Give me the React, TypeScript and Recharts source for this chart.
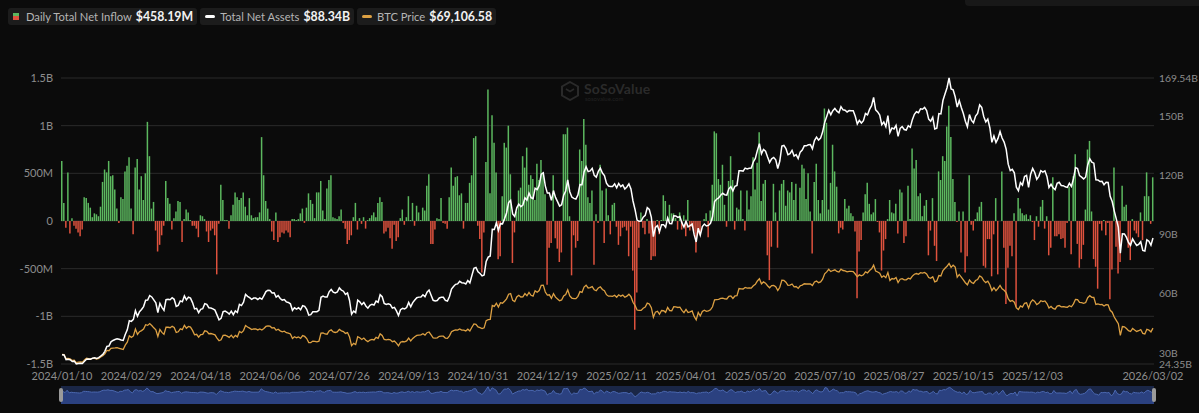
import React from 'react';
import { ComposedChart, Bar, Line, XAxis, YAxis, CartesianGrid, Cell, AreaChart, Area } from 'recharts';

// Daily Total Net Inflow, $M (one value per trading day)
const FLOW_M = [
  630,190,-70,510,-130,30,-50,-80,-120,-160,
  -90,250,240,190,140,40,80,70,50,150,
  410,540,510,630,470,480,330,130,-20,250,
  230,520,580,670,130,-140,560,650,330,470,
  220,500,1040,680,130,200,-100,-320,-250,-150,
  -50,420,240,180,-90,30,100,210,200,-220,
  20,120,90,10,-50,-50,-80,-170,60,50,
  20,-110,-220,-100,-80,-150,-560,-30,380,220,
  10,10,-80,60,170,300,250,220,240,300,
  150,60,240,60,30,40,40,90,880,480,
  210,130,20,-110,-200,90,-220,-170,-120,-130,
  -100,-120,-170,20,20,10,20,80,130,-20,
  140,290,220,180,30,300,300,420,110,20,
  340,430,480,40,30,20,50,120,-20,-80,
  -240,-200,-150,40,190,-90,30,-30,40,-80,
  10,30,60,90,40,190,250,200,-130,-110,
  -70,-180,-290,-40,-210,-170,30,120,-40,40,
  260,10,190,-50,160,90,10,140,110,370,
  490,-240,-240,-90,30,20,240,-20,-30,-80,
  250,560,370,460,470,270,290,-80,190,190,
  400,480,870,890,-50,-190,-540,-120,620,1380,
  290,1110,820,510,-400,-370,260,820,770,1000,
  490,-440,-120,100,320,350,680,560,770,380,
  480,440,220,600,430,640,490,280,-670,-280,
  -230,480,-180,-290,-430,-330,910,910,980,50,
  -570,-150,-280,-210,750,630,1070,800,250,190,
  320,-460,70,-20,590,320,-230,340,60,-140,
  170,190,-60,-250,-160,-70,-60,-100,-370,-60,
  -520,-1140,-750,-280,90,-70,-140,20,-130,-410,
  -370,-370,10,-140,10,270,210,10,170,80,
  80,30,-90,90,-90,60,-160,220,-100,-60,
  -110,-330,-130,-150,0,20,80,-170,110,380,
  940,920,440,380,590,170,-60,420,680,430,
  -90,140,120,320,20,-100,320,120,260,670,
  330,610,930,210,390,430,-360,-620,-270,390,
  90,-280,320,390,430,160,320,300,410,220,
  390,10,350,590,550,230,500,100,-340,410,
  600,220,80,220,1180,1030,120,400,800,520,
  360,-130,-70,-90,230,130,160,80,50,-110,
  -810,-320,-200,90,280,400,180,70,90,230,
  -10,-120,-520,-310,-190,20,220,90,80,180,
  -130,330,300,-230,-160,370,20,760,550,640,
  260,290,50,160,220,-360,-100,240,-260,-420,
  520,430,680,630,990,1210,880,440,200,-10,
  100,-330,100,-540,-370,480,-40,-100,20,90,
  150,200,-470,-490,-190,-190,-580,-140,240,-560,
  0,520,-280,-870,-490,-260,-370,80,-900,240,
  130,80,60,70,20,60,-10,-200,50,-60,
  150,220,-80,50,-360,-280,460,-160,-160,-140,
  -190,-180,-280,-20,360,-350,470,700,-240,-490,
  -400,-250,120,750,840,100,-400,-480,-710,-30,
  -100,10,-150,-20,-820,-510,560,-270,-550,-430,
  370,150,170,-280,-410,20,-100,-130,-170,90,
  -200,260,510,260,-30,458.19,
];

// Total Net Assets, $B
const TNA_B = [
  29.1,28.9,26.6,26.8,26.5,25.6,25.8,24.35,24.6,24.7,
  24.6,25.7,26.8,26.9,26.8,27.3,27.5,27.2,27.6,28.4,
  29.2,30.8,33.3,33.5,35.6,36.3,36.8,37.1,36.9,36.5,
  36.3,39.3,41.7,46.3,46.0,47.0,51.4,48.6,50.9,52.0,
  53.5,56.7,56.8,59.1,58.4,56.9,55.4,50.5,55.1,53.1,
  51.6,57.0,57.2,57.0,58.0,57.2,53.6,54.1,56.4,56.0,
  58.9,56.9,58.3,57.8,55.5,52.3,52.6,50.4,52.1,52.4,
  55.0,54.6,52.9,52.8,52.3,51.7,49.3,46.8,47.5,50.9,
  51.2,50.6,49.7,51.2,49.4,51.3,50.5,54.6,54.0,55.7,
  59.7,58.7,58.0,57.2,57.8,57.8,57.1,57.9,57.2,59.1,
  61.1,61.8,61.7,60.4,60.5,58.3,59.1,57.6,56.8,57.1,
  55.9,55.6,54.9,51.6,52.9,52.2,52.9,51.9,54.0,53.6,
  52.1,49.2,49.4,50.9,50.9,50.9,51.6,58.2,58.8,58.3,
  58.3,61.0,62.2,60.8,60.4,60.9,63.0,61.9,61.3,59.7,
  60.4,56.6,49.6,51.2,50.4,56.8,55.9,54.5,55.6,53.8,
  52.7,54.1,54.7,54.3,56.3,55.7,59.5,58.5,55.1,54.6,
  54.9,54.5,52.7,53.1,51.3,49.0,51.9,52.6,52.3,53.0,
  55.6,53.4,55.5,56.8,58.0,58.3,58.4,59.5,58.5,60.8,
  61.9,59.3,56.7,56.4,56.6,57.9,58.2,58.2,56.6,56.3,
  58.6,62.4,63.7,64.8,65.0,66.3,65.6,65.5,65.0,66.7,
  65.5,69.3,72.9,73.4,71.2,70.3,69.1,69.5,76.4,78.6,
  79.2,92.7,92.6,96.0,92.1,95.6,95.5,98.1,101.0,106.3,
  107.4,100.5,99.2,103.6,105.5,104.2,105.0,108.7,107.5,111.1,
  108.8,108.3,113.6,112.9,115.0,120.7,121.4,114.8,111.1,111.1,
  107.4,112.4,108.9,106.8,104.5,105.2,110.0,112.2,117.8,111.8,
  109.1,108.4,108.1,110.2,115.5,115.4,121.8,124.5,122.0,122.4,
  123.7,120.1,119.2,122.1,123.8,121.3,120.0,116.1,114.7,114.5,
  114.5,115.8,113.8,116.0,114.4,115.3,113.2,114.2,115.8,113.2,
  107.1,102.8,97.4,96.8,96.9,98.9,99.8,103.7,102.8,98.8,
  89.0,93.7,94.6,91.5,95.1,95.1,93.8,98.5,95.7,95.6,
  99.6,99.5,98.8,99.2,96.0,93.9,96.8,94.0,94.6,95.4,
  90.0,86.3,93.3,89.8,94.1,95.4,94.4,94.7,95.8,99.1,
  106.8,108.0,108.7,110.0,111.0,110.3,110.1,113.3,114.4,112.2,
  114.6,115.0,122.5,122.5,122.3,123.8,123.4,123.7,123.8,126.9,
  128.7,132.8,136.2,131.0,133.3,132.4,129.4,126.7,128.5,129.2,
  128.0,123.6,127.4,135.0,135.3,133.7,130.6,131.1,132.8,129.9,
  130.6,128.6,131.9,133.0,135.1,135.1,135.6,135.7,133.6,137.8,
  139.5,138.0,139.0,142.2,147.0,150.0,153.1,150.9,152.9,154.1,
  152.7,151.9,155.0,153.4,153.2,152.3,153.0,152.9,152.9,150.1,
  146.2,148.0,146.7,147.9,151.5,150.8,153.6,155.5,159.7,153.4,
  152.3,150.7,145.8,147.2,144.8,150.4,141.9,144.2,143.7,145.5,
  139.9,143.9,144.9,143.4,143.1,145.3,144.5,148.4,151.1,152.4,
  151.9,153.9,153.7,154.6,153.0,148.7,147.6,149.6,143.7,144.1,
  151.5,151.3,158.1,161.4,164.6,169.54,164.0,163.5,160.0,154.8,
  158.1,154.6,151.5,147.6,144.8,151.0,148.0,146.8,150.2,151.5,
  155.9,154.6,150.0,147.2,148.7,144.3,136.9,140.1,136.8,138.9,
  142.4,139.1,137.0,133.4,125.8,122.5,123.2,121.4,114.1,112.3,
  116.4,115.2,119.5,120.1,114.0,120.7,123.6,121.6,118.1,119.6,
  122.5,121.8,122.4,119.6,114.0,115.6,113.8,112.9,116.1,116.6,
  115.0,114.9,114.3,114.0,116.1,114.5,118.3,124.1,123.6,120.0,
  119.2,118.3,119.3,125.4,128.5,126.8,126.3,117.9,117.8,117.0,
  117.1,115.4,116.6,116.5,109.5,106.8,102.1,98.0,93.9,80.6,
  90.5,90.4,88.6,86.0,84.6,87.9,86.1,84.5,85.1,86.4,
  82.0,81.7,87.4,86.7,84.7,88.34,
];

// BTC Price, $K
const BTC_K = [
  46.6,46.3,42.8,43.1,42.7,41.3,41.6,39.5,39.8,40.1,
  39.9,41.8,43.3,42.9,42.6,43.1,43.2,42.6,43.1,44.3,
  45.3,47.1,50.0,49.7,51.8,52.0,52.1,52.3,51.8,51.3,
  50.7,54.5,57.0,62.5,61.2,62.4,68.3,63.8,66.1,67.0,
  68.3,72.1,71.5,73.1,71.4,69.4,67.6,61.9,67.9,65.5,
  63.8,69.9,69.9,69.5,70.7,69.7,65.4,66.0,68.5,67.8,
  71.6,69.1,70.6,70.0,67.2,63.4,63.8,61.3,63.5,63.8,
  66.8,66.4,64.3,64.5,64.0,63.4,60.6,58.3,59.1,62.9,
  63.1,62.3,61.2,63.1,60.8,62.9,61.6,66.3,65.2,67.0,
  71.4,70.1,69.1,67.9,68.5,68.4,67.6,68.4,67.5,68.8,
  70.6,71.1,70.8,69.3,69.6,67.3,68.2,66.8,66.0,66.5,
  65.2,64.9,64.1,60.3,61.8,60.9,61.6,60.3,62.7,62.0,
  60.2,56.7,56.7,58.0,57.7,57.3,57.9,64.8,65.0,64.1,
  63.9,66.7,67.6,65.9,65.4,65.8,68.0,66.8,66.2,64.6,
  65.3,61.5,54.0,56.0,55.0,61.7,60.9,59.4,60.6,58.7,
  57.5,58.9,59.5,59.0,61.2,60.4,64.2,62.9,59.4,59.0,
  59.4,59.1,57.5,58.0,56.2,53.9,57.0,57.6,57.3,58.1,
  60.6,58.2,60.3,61.8,62.9,63.2,63.3,64.3,63.1,65.2,
  65.8,63.3,60.8,60.6,60.8,62.1,62.2,62.2,60.6,60.3,
  62.5,66.0,67.0,67.6,67.4,68.4,67.4,67.4,66.7,68.2,
  66.6,69.9,72.7,72.3,70.2,69.5,68.8,69.4,75.6,76.5,
  76.7,88.7,87.9,90.6,87.3,91.0,90.6,92.3,94.3,98.3,
  98.9,93.0,91.9,95.9,97.4,95.9,96.0,98.8,97.0,99.9,
  97.4,96.6,101.2,100.0,101.5,106.0,106.1,100.2,97.5,97.8,
  94.7,98.7,95.8,94.2,92.6,93.4,96.9,98.1,102.1,96.9,
  95.0,94.5,94.5,96.5,100.5,99.9,104.5,106.1,103.7,104.0,
  104.8,102.1,101.3,103.7,104.7,102.4,101.4,97.9,96.6,96.6,
  96.5,97.4,95.7,97.8,96.6,97.5,95.7,96.6,98.3,96.2,
  91.4,88.7,84.7,84.4,84.4,86.2,87.2,90.6,89.9,86.7,
  78.5,82.9,83.7,81.1,84.3,84.1,82.7,86.9,84.2,84.1,
  87.5,87.4,86.9,87.2,84.4,82.5,85.2,82.5,83.1,83.9,
  79.2,76.3,82.6,79.6,83.4,84.6,83.6,84.0,84.9,87.5,
  93.4,93.7,93.9,94.7,95.0,94.3,94.2,96.5,96.9,94.7,
  96.8,97.0,103.2,102.9,102.8,104.1,103.5,103.7,103.5,105.6,
  106.8,109.7,111.7,107.3,108.9,107.8,105.6,103.9,105.7,105.9,
  104.8,101.5,104.3,110.3,110.2,108.7,105.9,106.1,107.1,104.6,
  104.9,103.3,105.6,106.1,107.3,107.1,107.1,107.1,105.7,108.8,
  109.6,108.2,108.9,111.3,115.9,117.5,119.8,117.8,118.7,119.3,
  117.9,117.4,119.9,118.7,118.4,117.6,118.0,117.9,117.8,115.7,
  113.3,115.0,114.1,115.0,117.5,116.7,118.7,120.2,123.3,118.3,
  117.4,116.3,112.9,114.2,112.5,116.9,110.1,111.8,111.3,112.6,
  108.4,111.2,111.7,110.7,110.7,112.1,111.5,113.9,115.5,116.1,
  115.4,116.8,116.5,117.1,115.7,112.7,112.0,113.3,109.0,109.7,
  114.4,114.0,118.6,120.6,122.3,124.8,121.4,123.3,121.6,113.0,
  115.3,113.0,110.7,108.2,106.4,110.6,108.4,107.6,110.1,111.0,
  114.1,113.0,110.0,108.3,109.6,106.5,101.5,103.9,101.3,103.3,
  105.9,103.0,101.7,99.7,94.4,92.1,92.9,91.5,86.6,85.1,
  88.3,87.3,90.5,90.9,86.3,91.3,93.5,92.1,89.4,90.6,
  92.7,92.0,92.5,90.3,86.4,87.8,86.1,85.5,88.1,88.6,
  87.5,87.6,87.3,87.1,88.4,87.5,90.0,93.9,93.7,91.3,
  91.0,90.5,91.2,95.3,97.0,95.6,95.5,89.5,90.0,89.4,
  89.5,88.2,89.3,89.2,84.5,82.8,78.7,75.8,73.0,63.0,
  70.5,70.3,68.8,67.0,66.2,68.8,67.5,66.3,66.9,67.9,
  64.6,64.1,68.2,67.5,65.9,69.107,
];

const TICK_INDEX = [0, 34, 68, 102, 136, 170, 204, 238, 272, 306, 340, 374, 408, 442, 476, 535];
const TICK_LABELS = [
  '2024/01/10', '2024/02/29', '2024/04/18', '2024/06/06', '2024/07/26', '2024/09/13',
  '2024/10/31', '2024/12/19', '2025/02/11', '2025/04/01', '2025/05/20', '2025/07/10',
  '2025/08/27', '2025/10/15', '2025/12/03', '2026/03/02',
];
const LEFT_TICKS = [-1500, -1000, -500, 0, 500, 1000, 1500];
const LEFT_LABELS = ['-1.5B', '-1B', '-500M', '0', '500M', '1B', '1.5B'];
const RIGHT_TICKS = [24.35, 30, 60, 90, 120, 150, 169.54];
const RIGHT_LABELS = ['24.35B', '30B', '60B', '90B', '120B', '150B', '169.54B'];

const LEGEND = [
  { key: 'flow', label: 'Daily Total Net Inflow', value: '$458.19M' },
  { key: 'tna', label: 'Total Net Assets', value: '$88.34B' },
  { key: 'btc', label: 'BTC Price', value: '$69,106.58' },
];

const GREEN = '#5cb85f';
const RED = '#df523e';
const ORANGE = '#dca043';
const BG = '#0b0b0b';
const AXIS_TEXT = '#8d8d8d';
const FONT = 'Lato, "Noto Sans", sans-serif';

const data = FLOW_M.map((f, i) => ({ i, flow: f, tna: TNA_B[i], btc: BTC_K[i] }));

function LegendIcon({ k }: { k: string }) {
  if (k === 'flow') {
    return (
      <span style={{ display: 'inline-block', width: 6, height: 7, marginRight: 7, background: `linear-gradient(${GREEN} 0 50%, ${RED} 50% 100%)` }} />
    );
  }
  return (
    <span style={{ display: 'inline-block', width: 10, height: 3, borderRadius: 2, marginRight: 5, background: k === 'tna' ? '#ffffff' : ORANGE }} />
  );
}

export default function App() {
  return (
    <div style={{ position: 'absolute', left: 0, top: 0, width: 1199, height: 413, background: BG, overflow: 'hidden', fontFamily: FONT }}>
      <div style={{ position: 'absolute', left: 965, top: -10, width: 240, height: 16, borderRadius: 4, background: '#181818' }} />
      <div style={{ position: 'absolute', left: 8, top: 8, display: 'flex', gap: 3 }}>
        {LEGEND.map((l) => (
          <div key={l.key} style={{ display: 'flex', alignItems: 'center', height: 17, padding: '0 4px 0 5px', background: '#1c1c1c', borderRadius: 3 }}>
            <LegendIcon k={l.key} />
            <span style={{ color: '#b5b5b5', fontSize: 11.2 }}>{l.label}</span>
            <span style={{ color: '#f2f2f2', fontSize: 12.3, fontWeight: 700, marginLeft: 4 }}>{l.value}</span>
          </div>
        ))}
      </div>
      <svg style={{ position: 'absolute', left: 560, top: 81 }} width={20} height={20} viewBox="0 0 20 20">
        <polygon points="10,1 18,5.5 18,14.5 10,19 2,14.5 2,5.5" fill="none" stroke="#2a2a2a" strokeWidth={2} />
        <polyline points="6,8 10,10.5 14,8 M10,10.5 10,15" fill="none" stroke="#2a2a2a" strokeWidth={1.6} />
      </svg>
      <div style={{ position: 'absolute', left: 584, top: 80, color: '#2a2a2a', fontSize: 14, fontWeight: 700, letterSpacing: 0.2 }}>SoSoValue</div>
      <div style={{ position: 'absolute', left: 585, top: 95, color: '#222222', fontSize: 6 }}>sosovalue.com</div>
      <div style={{ position: 'absolute', left: 0, top: 0 }}>
        <ComposedChart width={1199} height={413} data={data} margin={{ top: 78, right: 0, bottom: 19, left: 6 }}>
          <CartesianGrid yAxisId="left" vertical={false} stroke="#2b2b2b" strokeWidth={1} />
          <XAxis
            dataKey="i"
            type="category"
            ticks={TICK_INDEX}
            interval={0}
            tickFormatter={(v: number) => TICK_LABELS[TICK_INDEX.indexOf(v)] ?? ''}
            axisLine={false}
            tickLine={false}
            height={30}
            tick={{ fill: AXIS_TEXT, fontSize: 11, fontFamily: FONT }}
          />
          <YAxis
            yAxisId="left"
            domain={[-1500, 1500]}
            ticks={LEFT_TICKS}
            interval={0}
            tickFormatter={(v: number) => LEFT_LABELS[LEFT_TICKS.indexOf(v)] ?? ''}
            axisLine={false}
            tickLine={false}
            width={55}
            tick={{ fill: AXIS_TEXT, fontSize: 11, fontFamily: FONT }}
          />
          <YAxis
            yAxisId="right"
            orientation="right"
            domain={[24.35, 169.54]}
            ticks={RIGHT_TICKS}
            interval={0}
            tickFormatter={(v: number) => RIGHT_LABELS[RIGHT_TICKS.indexOf(v)] ?? ''}
            axisLine={false}
            tickLine={false}
            tickMargin={-1}
            width={45}
            tick={{ fill: AXIS_TEXT, fontSize: 10.3, fontFamily: FONT, textAnchor: 'start' }}
          />
          <YAxis yAxisId="btc" hide width={0} orientation="right" domain={[38.28, 284.3]} />
          <Bar yAxisId="left" dataKey="flow" barSize={1.5} isAnimationActive={false}>
            {data.map((d) => (
              <Cell key={d.i} fill={d.flow >= 0 ? GREEN : RED} />
            ))}
          </Bar>
          <Line yAxisId="btc" type="linear" dataKey="btc" stroke={ORANGE} strokeWidth={1.3} dot={false} isAnimationActive={false} />
          <Line yAxisId="right" type="linear" dataKey="tna" stroke="#ffffff" strokeWidth={1.5} dot={false} isAnimationActive={false} />
        </ComposedChart>
      </div>
      <div style={{ position: 'absolute', left: 61, top: 386, width: 1093, height: 18, background: '#1a2646' }}>
        <AreaChart width={1093} height={18} data={data} margin={{ top: 0, right: 0, bottom: 0, left: 0 }}>
          <XAxis dataKey="i" hide />
          <YAxis hide domain={[-2860, 1560]} />
          <Area type="linear" dataKey="flow" baseValue={-2860} stroke="#4b68b0" strokeWidth={1} fill="#2b4180" fillOpacity={1} isAnimationActive={false} />
        </AreaChart>
        <div style={{ position: 'absolute', left: -2, top: 2, width: 4, height: 14, borderRadius: 2, background: '#9a9a9a' }} />
        <div style={{ position: 'absolute', right: -2, top: 2, width: 4, height: 14, borderRadius: 2, background: '#9a9a9a' }} />
      </div>
    </div>
  );
}
